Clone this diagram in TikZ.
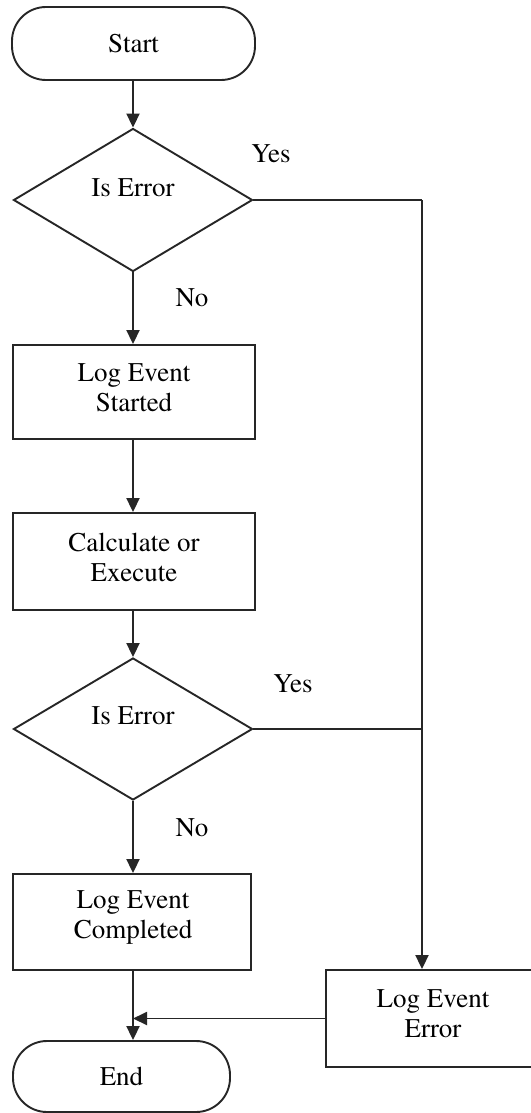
\documentclass[tikz,border=0pt]{standalone}
\usepackage[T1]{fontenc}
\usepackage{times}
\usetikzlibrary{shapes.geometric,arrows.meta}
\begin{document}
\begin{tikzpicture}[x=1pt,y=-1pt,
  every node/.style={font=\fontfamily{ptm}\fontsize{27}{30}\selectfont},
  line/.style={draw=black!85,line width=1.9pt},
  flow/.style={line,-{Triangle[length=14pt,width=13pt]}},
  terminal/.style={line,rectangle,rounded corners=34pt,inner sep=0pt},
  proc/.style={line,rectangle,inner sep=0pt},
  decision/.style={line,diamond,inner sep=0pt},
  txt/.style={align=center,inner sep=0pt},
]
\useasboundingbox (0,0) rectangle (530,1113);
\fill[white] (0,0) rectangle (530,1113);

% terminals
\node[terminal,minimum width=243pt,minimum height=73pt] (start) at (133.5,43.5) {Start};
\node[terminal,minimum width=217pt,minimum height=71pt] (en) at (121.5,1076.5) {End};

% decisions
\node[decision,minimum width=239pt,minimum height=143pt] (d1) at (133,200) {};
\node[txt] (d1t) at (133,188) {Is Error};
\node[decision,minimum width=239pt,minimum height=142pt] (d2) at (133,729) {};
\node[txt] (d2t) at (133,716) {Is Error};

% process boxes
\node[proc,minimum width=242pt,minimum height=94pt] (b1) at (134,392) {};
\node[txt] (b1t) at (134,388) {Log Event\\Started};
\node[proc,minimum width=242pt,minimum height=97pt] (b2) at (134,561.5) {};
\node[txt] (b2t) at (134,557) {Calculate or\\Execute};
\node[proc,minimum width=238pt,minimum height=96pt] (b3) at (132,922) {};
\node[txt] (b3t) at (133,918) {Log Event\\Completed};
\node[proc,minimum width=214pt,minimum height=97pt] (eb) at (433,1018.5) {};
\node[txt] (ebt) at (433,1014) {Log Event\\Error};

% branch labels
\node (y1) at (271,154) {Yes};
\node (n1) at (192,298) {No};
\node (y2) at (293,684) {Yes};
\node (n2) at (192,828) {No};

% main column and junction on the error path
\coordinate (col) at (133,0);
\coordinate (j1) at (422,200);

% main flow, kept on one vertical
\draw[flow] (col |- start.south) -- (col |- d1.north);
\draw[flow] (col |- d1.south) -- (col |- b1.north);
\draw[flow] (col |- b1.south) -- (col |- b2.north);
\draw[flow] (col |- b2.south) -- (col |- d2.north);
\draw[flow] (col |- d2.south) -- (col |- b3.north);
\draw[flow] (col |- b3.south) -- (col |- en.north);

% error path
\draw[line] (d1.east) -- (j1);
\draw[flow] (j1) -- (j1 |- eb.north);
\draw[line] (d2.east) -- (j1 |- d2.east);
\draw[flow] (eb.west) -- (col |- eb.west);
\end{tikzpicture}
\end{document}
